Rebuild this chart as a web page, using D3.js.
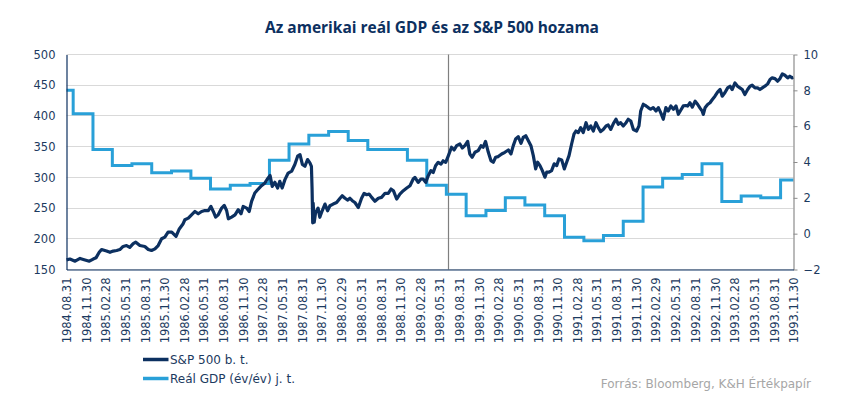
<!DOCTYPE html>
<html>
<head>
<meta charset="utf-8">
<script src="https://cdn.jsdelivr.net/npm/d3@7"></script>
<style>
  body { margin: 0; background: #fff; }
  text { font-family: "DejaVu Sans", sans-serif; }
</style>
</head>
<body>
<div id="chart"></div>
<script>
// x tick labels (quarter ends)
const xTickLabels = [
  "1984.08.31", "1984.11.30",
  "1985.02.28", "1985.05.31", "1985.08.31", "1985.11.30",
  "1986.02.28", "1986.05.31", "1986.08.31", "1986.11.30",
  "1987.02.28", "1987.05.31", "1987.08.31", "1987.11.30",
  "1988.02.29", "1988.05.31", "1988.08.31", "1988.11.30",
  "1989.02.28", "1989.05.31", "1989.08.31", "1989.11.30",
  "1990.02.28", "1990.05.31", "1990.08.31", "1990.11.30",
  "1991.02.28", "1991.05.31", "1991.08.31", "1991.11.30",
  "1992.02.29", "1992.05.31", "1992.08.31", "1992.11.30",
  "1993.02.28", "1993.05.31", "1993.08.31", "1993.11.30"
];

const leftTicks = [150, 200, 250, 300, 350, 400, 450, 500];
const rightTicks = [-2, 0, 2, 4, 6, 8, 10];

// real GDP y/y, quarterly steps (right axis)
const gdpDates = [
  "1984-08-31", "1984-10-01",
  "1985-01-01", "1985-04-01", "1985-07-01", "1985-10-01",
  "1986-01-01", "1986-04-01", "1986-07-01", "1986-10-01",
  "1987-01-01", "1987-04-01", "1987-07-01", "1987-10-01",
  "1988-01-01", "1988-04-01", "1988-07-01", "1988-10-01",
  "1989-01-01", "1989-04-01", "1989-07-01", "1989-10-01",
  "1990-01-01", "1990-04-01", "1990-07-01", "1990-10-01",
  "1991-01-01", "1991-04-01", "1991-07-01", "1991-10-01",
  "1992-01-01", "1992-04-01", "1992-07-01", "1992-10-01",
  "1993-01-01", "1993-04-01", "1993-07-01", "1993-10-01"
];
const gdpValues = [
  8.0, 6.7,
  4.7, 3.8, 3.9, 3.4,
  3.5, 3.1, 2.5, 2.7,
  2.8, 4.1, 5.0, 5.5,
  5.7, 5.2, 4.7, 4.7,
  4.1, 2.7, 2.2, 1.0,
  1.3, 2.0, 1.6, 1.0,
  -0.2, -0.4, -0.1, 0.7,
  2.6, 3.1, 3.3, 3.9,
  1.8, 2.1, 2.0, 3.0
];

// S&P 500 index (left axis)
const spx = [
  ["1984-08-31", 165.6], ["1984-09-16", 167], ["1984-10-10", 163.5], ["1984-11-02", 168],
  ["1984-11-25", 165.6], ["1984-12-15", 163.5],
  ["1985-01-02", 167], ["1985-01-15", 169], ["1985-01-30", 178], ["1985-02-10", 182.5],
  ["1985-03-05", 180], ["1985-03-21", 178], ["1985-04-05", 180], ["1985-04-21", 181],
  ["1985-05-06", 182.5], ["1985-05-21", 187.5], ["1985-06-06", 189], ["1985-06-21", 186],
  ["1985-07-07", 192], ["1985-07-19", 194.5], ["1985-08-07", 189], ["1985-08-30", 187.5],
  ["1985-09-15", 182.5], ["1985-09-30", 181], ["1985-10-16", 183.6], ["1985-10-31", 189],
  ["1985-11-16", 200], ["1985-12-01", 202.7], ["1985-12-16", 211],
  ["1986-01-02", 211], ["1986-01-22", 204], ["1986-02-06", 216], ["1986-02-24", 224.5],
  ["1986-03-04", 231], ["1986-03-20", 233.6], ["1986-04-04", 239], ["1986-04-20", 244.5],
  ["1986-05-05", 240.7], ["1986-05-21", 244.5], ["1986-06-05", 246], ["1986-06-21", 246],
  ["1986-07-03", 252.7], ["1986-07-14", 244.5], ["1986-07-25", 235.3], ["1986-08-06", 239],
  ["1986-08-22", 250], ["1986-09-03", 254.4], ["1986-09-14", 246], ["1986-09-22", 232.6],
  ["1986-10-07", 235.3], ["1986-10-23", 239], ["1986-11-07", 247.3], ["1986-11-20", 240.7],
  ["1986-11-30", 252.7], ["1986-12-16", 250], ["1986-12-28", 244.5],
  ["1987-01-08", 261], ["1987-01-23", 274.5], ["1987-02-08", 281], ["1987-02-23", 286.5],
  ["1987-03-11", 291], ["1987-03-26", 299], ["1987-04-04", 303], ["1987-04-14", 285.4],
  ["1987-04-26", 292], ["1987-05-09", 282.7], ["1987-05-19", 293.6], ["1987-05-30", 282.7],
  ["1987-06-12", 296.3], ["1987-06-27", 307], ["1987-07-13", 310], ["1987-07-28", 321],
  ["1987-08-10", 334.5], ["1987-08-21", 337], ["1987-09-01", 321], ["1987-09-13", 318],
  ["1987-09-25", 329], ["1987-10-06", 323.6], ["1987-10-13", 318], ["1987-10-16", 282],
  ["1987-10-19", 226], ["1987-10-21", 258], ["1987-10-26", 227], ["1987-11-01", 241.8],
  ["1987-11-13", 250], ["1987-11-21", 235], ["1987-12-02", 245.6], ["1987-12-15", 256.5],
  ["1987-12-27", 245.6],
  ["1988-01-07", 253.8], ["1988-01-22", 256.5], ["1988-02-07", 259], ["1988-02-23", 266],
  ["1988-03-04", 270], ["1988-03-17", 266], ["1988-03-30", 263], ["1988-04-09", 266],
  ["1988-04-20", 262], ["1988-05-02", 259], ["1988-05-18", 251], ["1988-06-02", 266],
  ["1988-06-14", 274], ["1988-06-26", 271.7], ["1988-07-07", 272.8], ["1988-07-19", 267.4],
  ["1988-08-03", 261], ["1988-08-19", 266], ["1988-09-03", 267.4], ["1988-09-19", 274],
  ["1988-10-04", 274], ["1988-10-17", 281], ["1988-10-28", 278.3], ["1988-11-12", 264.7],
  ["1988-11-27", 272.8], ["1988-12-13", 278.3], ["1988-12-29", 282.6],
  ["1989-01-13", 286.4], ["1989-01-28", 297.3], ["1989-02-05", 300], ["1989-02-20", 291.8],
  ["1989-03-05", 297.3], ["1989-03-15", 297.3], ["1989-03-27", 291.8], ["1989-04-08", 302.7],
  ["1989-04-20", 311], ["1989-05-01", 308], ["1989-05-12", 319], ["1989-05-24", 324.5],
  ["1989-06-06", 321.7], ["1989-06-16", 327], ["1989-06-28", 324.5], ["1989-07-10", 335],
  ["1989-07-25", 349], ["1989-08-06", 344.6], ["1989-08-18", 351.6], ["1989-09-02", 354.3],
  ["1989-09-13", 347.8], ["1989-09-25", 351.6], ["1989-10-08", 358.6], ["1989-10-18", 338],
  ["1989-10-29", 332.7], ["1989-11-11", 340.8], ["1989-11-26", 343.5], ["1989-12-09", 351.6],
  ["1989-12-19", 349], ["1989-12-30", 358.6],
  ["1990-01-12", 340.8], ["1990-01-24", 327.3], ["1990-02-04", 324.6], ["1990-02-15", 332.7],
  ["1990-02-27", 333.8], ["1990-03-15", 338], ["1990-03-30", 340.8], ["1990-04-15", 344.6],
  ["1990-04-27", 338], ["1990-05-08", 351.6], ["1990-05-19", 362.4], ["1990-05-31", 366.2],
  ["1990-06-13", 355.4], ["1990-06-23", 365], ["1990-07-05", 367.8], ["1990-07-17", 359.7],
  ["1990-07-29", 351.6], ["1990-08-09", 335.4], ["1990-08-20", 313.8], ["1990-08-29", 324.6],
  ["1990-09-09", 319.2], ["1990-09-20", 311], ["1990-10-02", 300.3], ["1990-10-10", 308.4],
  ["1990-10-21", 308.4], ["1990-11-02", 311], ["1990-11-14", 322], ["1990-11-26", 319.2],
  ["1990-12-06", 330], ["1990-12-19", 328.4], ["1990-12-31", 313.8],
  ["1991-01-11", 324.6], ["1991-01-22", 335.4], ["1991-02-03", 354.3], ["1991-02-14", 370.5],
  ["1991-02-23", 375.5], ["1991-03-06", 372.8], ["1991-03-17", 381], ["1991-03-29", 372.8],
  ["1991-04-11", 389], ["1991-04-22", 378], ["1991-05-03", 383.7], ["1991-05-15", 375.5],
  ["1991-05-27", 389], ["1991-06-07", 381], ["1991-06-18", 374.5], ["1991-06-30", 378],
  ["1991-07-13", 383.7], ["1991-07-23", 385.3], ["1991-08-04", 378], ["1991-08-16", 387.5],
  ["1991-08-28", 394.6], ["1991-09-08", 386.4], ["1991-09-19", 389], ["1991-10-01", 383.7],
  ["1991-10-14", 389], ["1991-10-24", 394.6], ["1991-11-05", 391.8], ["1991-11-17", 378],
  ["1991-12-02", 375.5], ["1991-12-13", 383.7], ["1991-12-21", 408],
  ["1992-01-02", 419], ["1992-01-15", 416.3], ["1992-01-25", 413.6], ["1992-02-05", 410.9],
  ["1992-02-17", 413.6], ["1992-03-01", 408], ["1992-03-12", 413.6], ["1992-03-23", 405.4],
  ["1992-04-04", 394.6], ["1992-04-16", 413.6], ["1992-04-27", 408], ["1992-05-09", 416.3],
  ["1992-05-21", 410.9], ["1992-06-02", 416.3], ["1992-06-13", 402.7], ["1992-06-24", 409.2],
  ["1992-07-06", 416.3], ["1992-07-18", 417], ["1992-07-26", 416], ["1992-08-06", 421.4],
  ["1992-08-17", 414.3], ["1992-08-30", 424], ["1992-09-11", 418.6], ["1992-09-21", 413.2],
  ["1992-10-02", 407.8], ["1992-10-07", 402.4], ["1992-10-15", 413.2], ["1992-10-27", 418.6],
  ["1992-11-07", 421.4], ["1992-11-18", 426.8], ["1992-11-30", 432.2], ["1992-12-13", 439.2],
  ["1992-12-24", 443],
  ["1993-01-03", 432.2], ["1993-01-15", 437.6], ["1993-01-28", 445.7], ["1993-02-08", 448.4],
  ["1993-02-18", 443], ["1993-03-03", 453.8], ["1993-03-15", 448.4], ["1993-03-26", 445.7],
  ["1993-04-06", 443], ["1993-04-18", 434.9], ["1993-05-01", 443], ["1993-05-12", 448.4],
  ["1993-05-22", 450], ["1993-06-04", 445.7], ["1993-06-16", 445.7], ["1993-06-27", 443],
  ["1993-07-08", 445.7], ["1993-07-20", 448.4], ["1993-08-02", 452.2], ["1993-08-13", 459.2],
  ["1993-08-23", 462], ["1993-09-05", 460.8], ["1993-09-17", 456.5], ["1993-09-28", 460.8],
  ["1993-10-09", 468.4], ["1993-10-21", 466.2], ["1993-11-03", 462], ["1993-11-13", 464.6],
  ["1993-11-24", 462], ["1993-11-30", 463]
];

const markerDate = "1989-07-13";

const seriesNames = ["S&P 500 b. t.", "Reál GDP (év/év) j. t."];
const navy = "#0c3060";
const lightBlue = "#29a0d8";
const textColor = "#1c3a60";

// svg size and plot box
const w = 850;
const h = 396;
const plotLeft = 66.5;
const plotRight = 793.5;
const plotTop = 54.5;
const plotBottom = 269.5;

const parseDash = d3.timeParse("%Y-%m-%d");
const parseDot = d3.timeParse("%Y.%m.%d");
const fmtDot = d3.timeFormat("%Y.%m.%d");

const tickDates = xTickLabels.map(parseDot);

const svg = d3
  .select("#chart")
  .append("svg")
  .attr("width", w)
  .attr("height", h);

// scales
const xScale = d3
  .scaleTime()
  .domain([tickDates[0], tickDates[tickDates.length - 1]])
  .range([plotLeft, plotRight]);

const yLeft = d3.scaleLinear().domain([150, 500]).range([plotBottom, plotTop]);
const yRight = d3.scaleLinear().domain([-2, 10]).range([plotBottom, plotTop]);

// title
svg
  .append("text")
  .attr("x", 432)
  .attr("y", 33)
  .attr("text-anchor", "middle")
  .style("font-family", "'Open Sans', sans-serif")
  .style("font-weight", "bold")
  .style("font-size", "15.5px")
  .style("fill", navy)
  .text("Az amerikai reál GDP és az S&P 500 hozama");

// gridlines
svg
  .append("g")
  .selectAll("line")
  .data(leftTicks)
  .enter()
  .append("line")
  .attr("x1", plotLeft)
  .attr("x2", plotRight)
  .attr("y1", (d) => Math.round(yLeft(d) - 0.5) + 0.5)
  .attr("y2", (d) => Math.round(yLeft(d) - 0.5) + 0.5)
  .attr("stroke", "#d9d9d9")
  .attr("stroke-width", 1);

// vertical marker line
const markerX = Math.round(xScale(parseDash(markerDate)) - 0.5) + 0.5;
svg
  .append("line")
  .attr("x1", markerX)
  .attr("x2", markerX)
  .attr("y1", plotTop)
  .attr("y2", plotBottom)
  .attr("stroke", "#7f7f7f")
  .attr("stroke-width", 1.2);

// GDP step line
const gdpData = gdpDates.map((d, i) => ({ date: parseDash(d), value: gdpValues[i] }));
gdpData.push({ date: xScale.domain()[1], value: gdpValues[gdpValues.length - 1] });

const gdpLine = d3
  .line()
  .x((d) => xScale(d.date))
  .y((d) => yRight(d.value))
  .curve(d3.curveStepAfter);

svg
  .append("path")
  .attr("d", gdpLine(gdpData))
  .attr("fill", "none")
  .attr("stroke", lightBlue)
  .attr("stroke-width", 3);

// S&P 500 line
const spxData = spx.map((d) => ({ date: parseDash(d[0]), value: d[1] }));

const spxLine = d3
  .line()
  .x((d) => xScale(d.date))
  .y((d) => yLeft(d.value));

svg
  .append("path")
  .attr("d", spxLine(spxData))
  .attr("fill", "none")
  .attr("stroke", navy)
  .attr("stroke-width", 3.2)
  .attr("stroke-linejoin", "round");

// axes
const styleAxis = (g, color) => {
  g.select(".domain").attr("stroke", color).attr("stroke-width", 1.2);
  g.selectAll(".tick line").attr("stroke", color);
  g.selectAll("text")
    .style("font-size", "11.5px")
    .style("font-family", "'DejaVu Sans', sans-serif")
    .attr("fill", textColor);
};

const yAxisLeft = d3
  .axisLeft(yLeft)
  .tickValues(leftTicks)
  .tickSize(0)
  .tickPadding(11);

svg
  .append("g")
  .attr("transform", `translate(${plotLeft},0)`)
  .call(yAxisLeft)
  .call((g) => styleAxis(g, navy));

const yAxisRight = d3
  .axisRight(yRight)
  .tickValues(rightTicks)
  .tickSizeInner(4)
  .tickSizeOuter(0)
  .tickPadding(6);

svg
  .append("g")
  .attr("transform", `translate(${plotRight},0)`)
  .call(yAxisRight)
  .call((g) => styleAxis(g, "#8c8c8c"));

const xAxis = d3
  .axisBottom(xScale)
  .tickValues(tickDates)
  .tickFormat(fmtDot)
  .tickSize(0);

svg
  .append("g")
  .attr("transform", `translate(0,${plotBottom})`)
  .call(xAxis)
  .call((g) => styleAxis(g, navy))
  .selectAll("text")
  .attr("transform", "rotate(-90)")
  .attr("x", -8)
  .attr("y", 0)
  .attr("dy", "0.36em")
  .style("text-anchor", "end");

// legend
const legendColors = [navy, lightBlue];
seriesNames.forEach((name, i) => {
  const ly = 359.5 + i * 19;
  svg
    .append("line")
    .attr("x1", 143)
    .attr("x2", 168.5)
    .attr("y1", ly)
    .attr("y2", ly)
    .attr("stroke", legendColors[i])
    .attr("stroke-width", 3.5);

  svg
    .append("text")
    .attr("x", 170)
    .attr("y", ly)
    .attr("dy", "0.35em")
    .style("font-size", "12px")
    .style("fill", textColor)
    .text(name);
});

// source note
svg
  .append("text")
  .attr("x", 811)
  .attr("y", 388)
  .attr("text-anchor", "end")
  .style("font-size", "12px")
  .style("fill", "#a6a6a6")
  .text("Forrás: Bloomberg, K&H Értékpapír");
</script>
</body>
</html>
